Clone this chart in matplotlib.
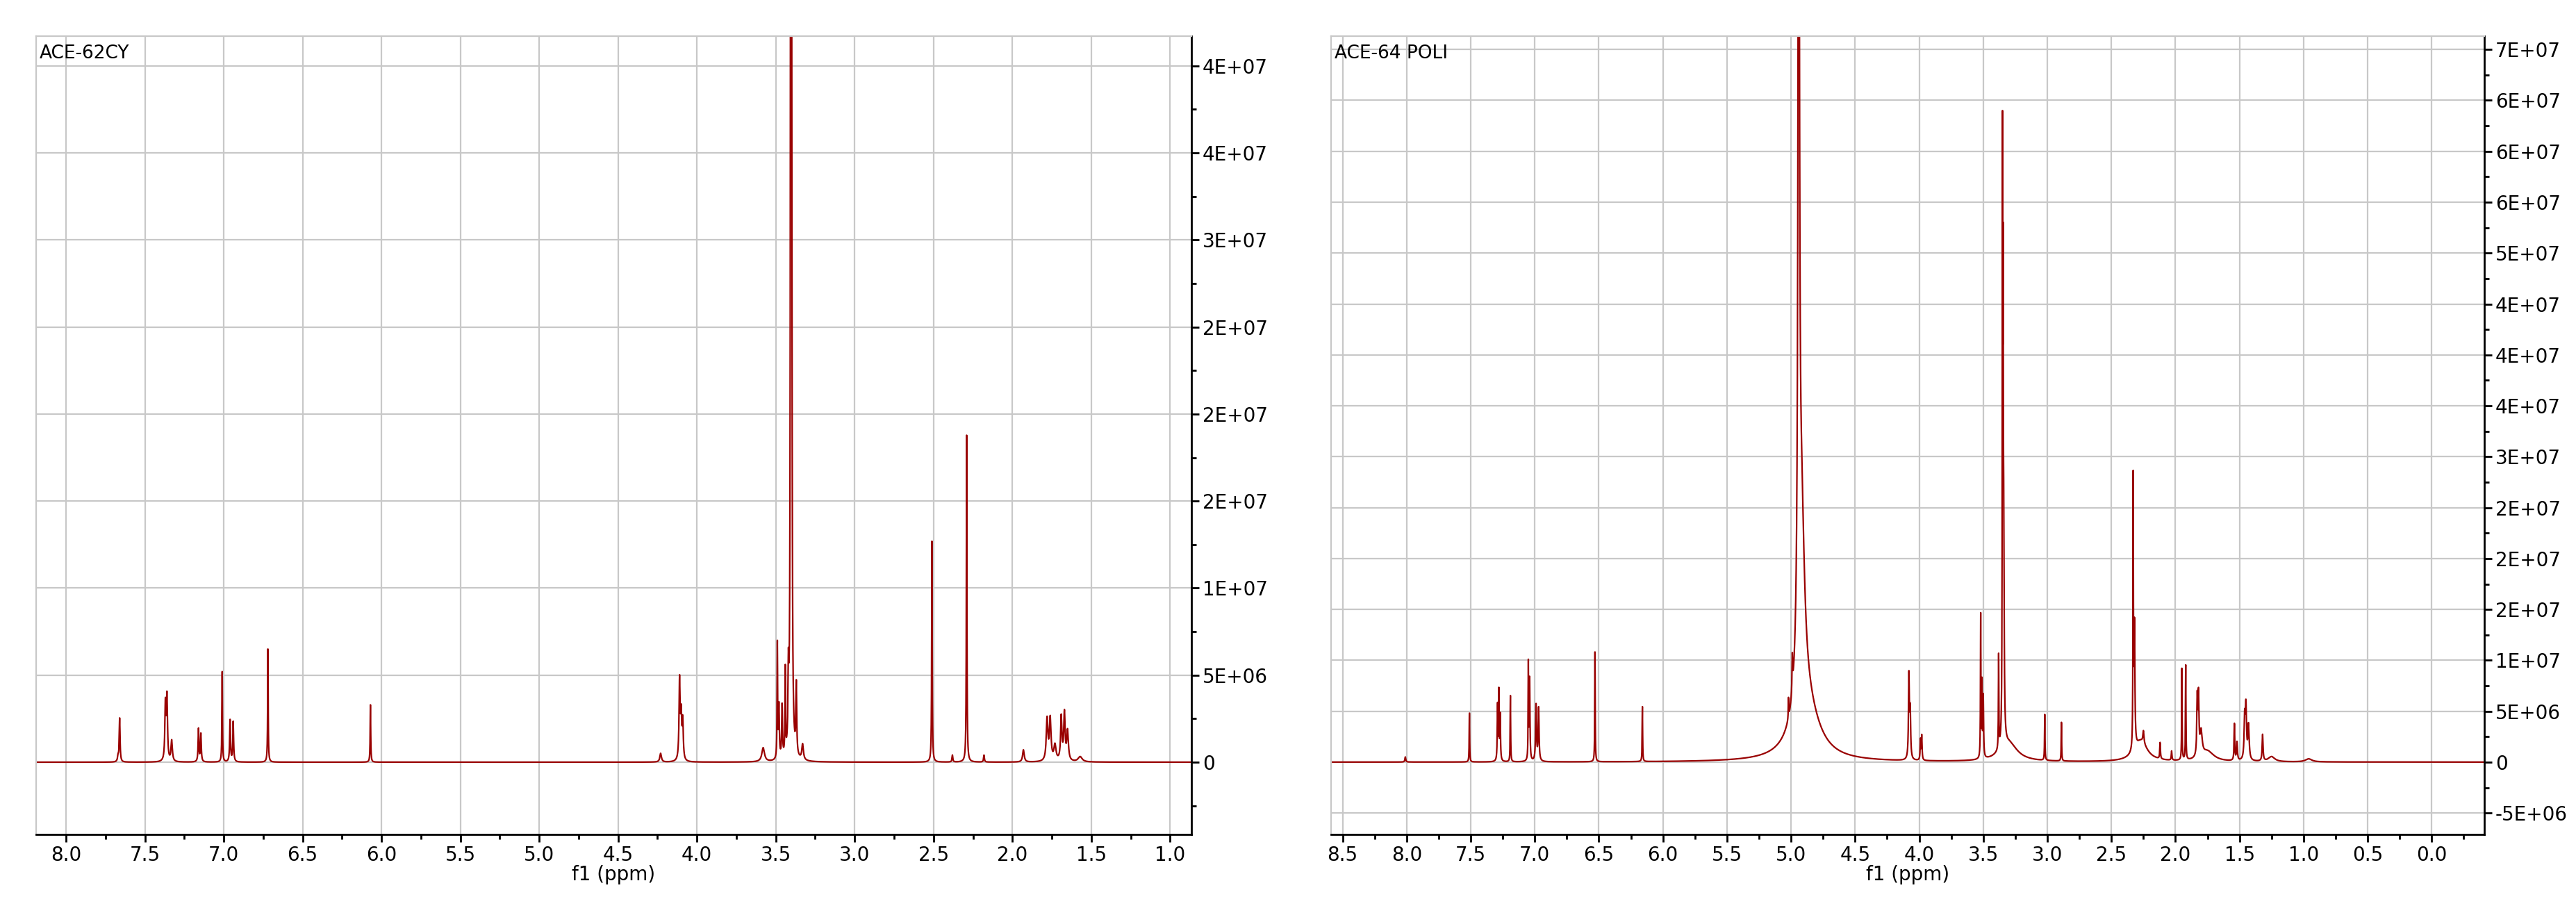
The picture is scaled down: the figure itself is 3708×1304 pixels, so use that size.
import numpy as np
import matplotlib
matplotlib.use("Agg")
import matplotlib.pyplot as plt
from matplotlib.ticker import MultipleLocator, FuncFormatter

# ---- data: peak lists (ppm, height in 1e6, half-width ppm) ----
left_title = "ACE-62CY"
left_pos = [7.67, 7.66, 7.37, 7.36, 7.33, 7.16, 7.145, 7.01, 6.96, 6.94, 6.72, 6.07,
            4.23, 4.11, 4.10, 4.09, 3.58, 3.49, 3.48, 3.46, 3.44, 3.42, 3.405, 3.40, 3.37, 3.33,
            2.51, 2.38, 2.29, 2.18, 1.93, 1.78, 1.76, 1.73, 1.69, 1.67, 1.65, 1.57]
left_h = [0.3, 2.5, 3.2, 3.6, 1.2, 1.9, 1.6, 5.2, 2.4, 2.3, 6.5, 3.3,
          0.5, 4.6, 2.4, 2.2, 0.8, 6.6, 3.0, 3.0, 4.9, 4.0, 90.0, 40.0, 4.0, 0.9,
          12.7, 0.4, 18.8, 0.4, 0.7, 2.4, 2.4, 0.9, 2.5, 2.7, 1.7, 0.3]
left_w = [0.004, 0.003, 0.004, 0.004, 0.005, 0.003, 0.003, 0.002, 0.003, 0.003, 0.002, 0.002,
          0.006, 0.004, 0.004, 0.004, 0.01, 0.002, 0.003, 0.003, 0.002, 0.003, 0.002, 0.003, 0.003, 0.006,
          0.002, 0.003, 0.002, 0.003, 0.006, 0.006, 0.006, 0.008, 0.005, 0.005, 0.006, 0.015]

right_title = "ACE-64 POLI"
right_pos = [8.01, 7.51, 7.29, 7.28, 7.27, 7.19, 7.05, 7.04, 6.99, 6.97, 6.53, 6.16,
             5.02, 4.99, 4.94, 4.92, 4.88, 4.08, 4.07, 3.99, 3.98,
             3.52, 3.51, 3.50, 3.38, 3.35, 3.345, 3.34, 3.30,
             3.02, 2.89, 2.33, 2.32, 2.27, 2.25, 2.12, 2.03,
             1.95, 1.92, 1.83, 1.82, 1.80, 1.75, 1.54, 1.52, 1.46, 1.45, 1.43, 1.32, 1.25, 0.96]
right_h = [0.5, 4.8, 5.5, 6.5, 4.5, 6.5, 9.4, 8.0, 5.5, 5.2, 10.8, 5.4,
           2.0, 3.5, 100.0, 20.0, 5.0, 8.2, 4.5, 2.0, 2.4,
           14.0, 7.0, 6.0, 9.2, 55.0, 37.0, 18.0, 1.8,
           4.5, 3.8, 26.0, 12.0, 2.0, 1.2, 1.6, 0.9,
           9.0, 9.3, 5.6, 5.6, 2.4, 1.0, 3.6, 1.8, 4.0, 5.0, 3.4, 2.6, 0.5, 0.3]
right_w = [0.004, 0.002, 0.003, 0.002, 0.003, 0.002, 0.002, 0.003, 0.004, 0.004, 0.002, 0.002,
           0.002, 0.003, 0.006, 0.03, 0.12, 0.004, 0.004, 0.003, 0.003,
           0.002, 0.002, 0.003, 0.002, 0.002, 0.002, 0.004, 0.08,
           0.002, 0.002, 0.002, 0.004, 0.06, 0.005, 0.003, 0.003,
           0.002, 0.002, 0.004, 0.004, 0.01, 0.06, 0.003, 0.004, 0.005, 0.005, 0.006, 0.004, 0.03, 0.03]

def spectrum(x, pos, h, w):
    y = np.zeros_like(x)
    for p, a, g in zip(pos, h, w):
        y += a * 1e6 * g**2 / ((x - p)**2 + g**2)
    return y

def fmt(v, _):
    if abs(v) < 1:
        return "0"
    return "%.0E" % v

plt.rcParams['font.family'] = ['Liberation Sans Narrow', 'DejaVu Sans']
fig = plt.figure(figsize=(37.08, 13.04), dpi=100)
color = "#990000"

panels = [
    (left_title, left_pos, left_h, left_w, (8.19, 0.865), (-4.15e6, 41.7e6), [0.014, 0.079, 0.4485, 0.881]),
    (right_title, right_pos, right_h, right_w, (8.59, -0.41), (-7.1e6, 71.3e6), [0.5167, 0.079, 0.4477, 0.881]),
]
for title, pos, h, w, xl, yl, rect in panels:
    ax = fig.add_axes(rect)
    x = np.linspace(xl[1], xl[0], 40000)
    ax.plot(x, spectrum(x, pos, h, w), color=color, lw=1.6)
    ax.set_xlim(*xl)
    ax.set_ylim(*yl)
    ax.xaxis.set_major_locator(MultipleLocator(0.5))
    ax.xaxis.set_minor_locator(MultipleLocator(0.25))
    ax.yaxis.set_major_locator(MultipleLocator(5e6))
    ax.yaxis.set_minor_locator(MultipleLocator(2.5e6))
    ax.yaxis.set_major_formatter(FuncFormatter(fmt))
    ax.xaxis.set_major_formatter(FuncFormatter(lambda v, _: "%.1f" % v))
    ax.yaxis.tick_right()
    ax.grid(True, which='major', color='#c8c8c8', lw=1.6)
    for s in ['top', 'left']:
        ax.spines[s].set_color('#c8c8c8')
        ax.spines[s].set_linewidth(1.6)
    for s in ['bottom', 'right']:
        ax.spines[s].set_linewidth(2.0)
    ax.tick_params(axis='both', which='major', labelsize=20, length=8, width=2)
    ax.tick_params(axis='both', which='minor', length=5, width=2)
    ax.set_xlabel("f1 (ppm)", fontsize=20, labelpad=0)
    ax.text(0.003, 0.99, title, transform=ax.transAxes, ha='left', va='top', fontsize=19)

fig.savefig("out.png", dpi=100)
